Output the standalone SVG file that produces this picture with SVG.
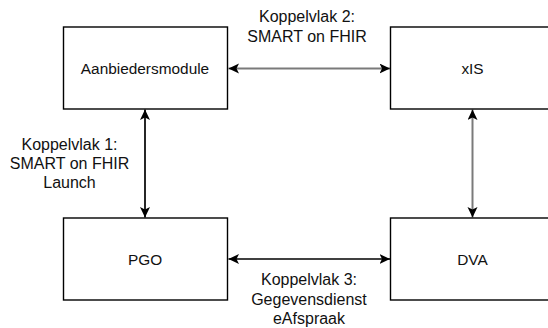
<svg xmlns="http://www.w3.org/2000/svg" width="548" height="328" viewBox="0 0 548 328">
<defs>
<marker id="ah" markerUnits="userSpaceOnUse" markerWidth="12" markerHeight="11" refX="10.5" refY="5" orient="auto-start-reverse">
<path d="M0,0 L10.5,5 L0,10 L2.5,5 Z" fill="#000"/>
</marker>
</defs>
<style>
rect.n{fill:#fff;stroke:#000;stroke-width:1.4}
text{font-family:"Liberation Sans",Arial,sans-serif;fill:#111;text-anchor:middle}
.nt{font-size:15.4px}
.lb{font-size:16px}
.e{fill:none;stroke-width:1.7;marker-start:url(#ah);marker-end:url(#ah)}
.g{stroke:#7a7a7a;stroke-width:2}
.k{stroke:#000}
</style>
<rect width="548" height="328" fill="#fff"/>
<g id="connectors">
<line class="e g" x1="228.5" y1="68.5" x2="390" y2="68.5"/>
<line class="e k" x1="145" y1="109.5" x2="145" y2="217.5"/>
<line class="e g" x1="472.5" y1="109.5" x2="472.5" y2="217.5"/>
<line class="e k" x1="228.5" y1="259" x2="390" y2="259"/>
</g>
<g id="aanbiedersmodule">
<rect class="n" x="63.5" y="27" width="164" height="82"/>
<text class="nt" x="145" y="73.5">Aanbiedersmodule</text>
</g>
<g id="xis">
<rect class="n" x="390.5" y="27" width="164" height="82"/>
<text class="nt" x="472.5" y="73.5">xIS</text>
</g>
<g id="pgo">
<rect class="n" x="63.5" y="218" width="164" height="82"/>
<text class="nt" x="145" y="264.5">PGO</text>
</g>
<g id="dva">
<rect class="n" x="390.5" y="218" width="164" height="82"/>
<text class="nt" x="472.5" y="264.5">DVA</text>
</g>
<g id="labels">
<text class="lb" x="307" y="22">Koppelvlak 2:</text>
<text class="lb" x="307" y="42.3">SMART on FHIR</text>
<text class="lb" x="69.5" y="150">Koppelvlak 1:</text>
<text class="lb" x="69.5" y="169">SMART on FHIR</text>
<text class="lb" x="69.5" y="188.3">Launch</text>
<text class="lb" x="309" y="285">Koppelvlak 3:</text>
<text class="lb" x="309" y="304.5">Gegevensdienst</text>
<text class="lb" x="309" y="324">eAfspraak</text>
</g>
</svg>
